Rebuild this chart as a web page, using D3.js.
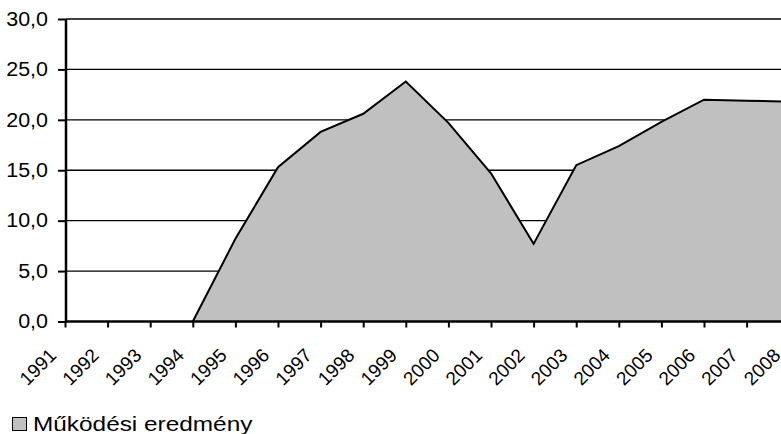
<!DOCTYPE html>
<html>
<head>
<meta charset="utf-8">
<script src="https://cdn.jsdelivr.net/npm/d3@7"></script>
<style>
  html, body { margin: 0; padding: 0; background: #fff; }
  svg { display: block; }
  text { font-family: "Liberation Sans", Arial, Helvetica, sans-serif; fill: #000; }
</style>
</head>
<body>
<svg id="chart" width="781" height="434"></svg>
<script>
// Évek és a működési eredmény értékei
const years = ["1991","1992","1993","1994","1995","1996","1997","1998","1999",
               "2000","2001","2002","2003","2004","2005","2006","2007","2008"];
const values = [null, null, null, 0, 8.2, 15.3, 18.8, 20.6, 23.8,
                19.7, 14.7, 7.7, 15.5, 17.4, 19.8, 22.0, 21.9, 21.8];
const yTicks = [0, 5, 10, 15, 20, 25, 30];
const seriesName = "Működési eredmény";

const svg = d3.select("#chart");
const W = 781;

const x = d3.scalePoint().domain(years).range([65, 65 + 17 * 42.6]);
const y = d3.scaleLinear().domain([0, 30]).range([321.5, 19]);
const fmt = v => d3.format(".1f")(v).replace(".", ",");

// vízszintes rácsvonalak
svg.append("g").selectAll("line").data(yTicks.filter(t => t > 0)).join("line")
  .attr("x1", 66).attr("x2", W)
  .attr("y1", d => y(d)).attr("y2", d => y(d))
  .attr("stroke", "#000").attr("stroke-width", 1.4);

// terület
const pts = years.map((yr, i) => ({ yr, v: values[i] }));
const area = d3.area()
  .defined(d => d.v != null)
  .x(d => x(d.yr)).y0(y(0)).y1(d => y(d.v));
const line = d3.line()
  .defined(d => d.v != null)
  .x(d => x(d.yr)).y(d => y(d.v));

svg.append("path").datum(pts).attr("d", area).attr("fill", "#c0c0c0");
svg.append("path").datum(pts).attr("d", line)
  .attr("fill", "none").attr("stroke", "#000").attr("stroke-width", 2)
  .attr("stroke-linejoin", "miter");

// y tengely
const yAxis = svg.append("g").attr("transform", "translate(66,0)")
  .call(d3.axisLeft(y).tickValues(yTicks).tickFormat(fmt).tickSize(8).tickPadding(0));
yAxis.select(".domain").attr("stroke", "#000").attr("stroke-width", 2.5)
  .attr("d", `M0,${y(30)}V${y(0) + 1}`);
yAxis.selectAll(".tick line").attr("stroke", "#000").attr("stroke-width", 2);
yAxis.selectAll(".tick text")
  .attr("font-size", 19.5).attr("font-family", null)
  .attr("x", 0)
  .attr("transform", "translate(-18,0) scale(1.1,1)");

// x tengely
const xAxis = svg.append("g").attr("transform", `translate(0,${y(0)})`)
  .call(d3.axisBottom(x).tickSize(6).tickPadding(0));
xAxis.select(".domain").attr("stroke", "#000").attr("stroke-width", 2.5)
  .attr("d", `M65,0H${W}`);
xAxis.selectAll(".tick line").attr("stroke", "#000").attr("stroke-width", 2);
xAxis.selectAll(".tick text")
  .attr("font-size", 19).attr("font-family", null)
  .attr("text-anchor", "end")
  .attr("dy", null).attr("y", 0)
  .attr("transform", "translate(-8,35) rotate(-45)");

// jelmagyarázat
const lg = svg.append("g");
lg.append("rect").attr("x", 12.5).attr("y", 417.5).attr("width", 14).attr("height", 13)
  .attr("fill", "#c0c0c0").attr("stroke", "#000").attr("stroke-width", 1);
lg.append("text").attr("x", 0).attr("y", 0).attr("font-size", 19.5)
  .attr("transform", "translate(33,431) scale(1.25,1)")
  .text(seriesName);
</script>
</body>
</html>
